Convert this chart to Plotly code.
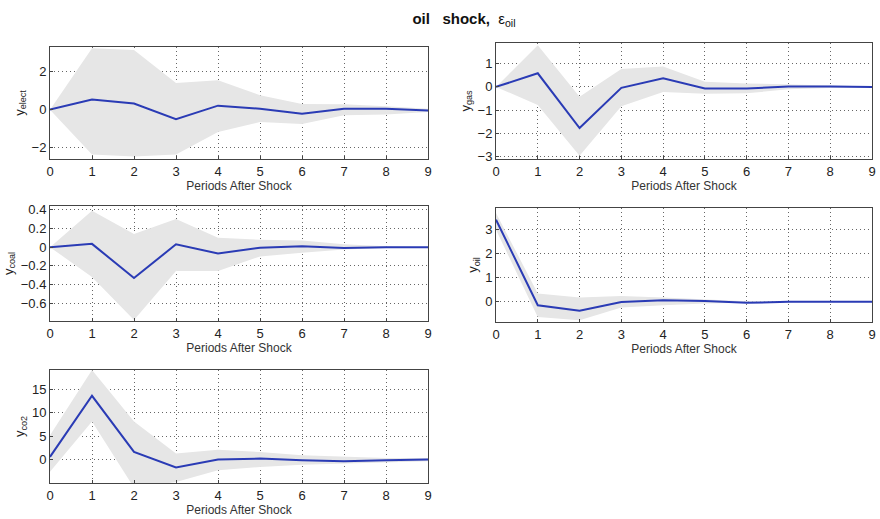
import plotly.graph_objects as go

periods = [0, 1, 2, 3, 4, 5, 6, 7, 8, 9]

elect_mid = [0, 0.53, 0.32, -0.50, 0.21, 0.05, -0.22, 0.05, 0.05, -0.04]
elect_up = [0, 3.23, 3.14, 1.41, 1.55, 0.76, 0.30, 0.28, 0.18, 0.05]
elect_lo = [0, -2.36, -2.47, -2.36, -1.18, -0.65, -0.75, -0.30, -0.25, -0.12]

gas_mid = [0, 0.59, -1.78, -0.04, 0.37, -0.07, -0.07, 0.02, 0.02, 0.0]
gas_up = [0, 1.80, -0.43, 0.78, 0.88, 0.22, 0.15, 0.10, 0.05, 0.02]
gas_lo = [0, -0.78, -2.98, -0.84, -0.22, -0.30, -0.28, -0.10, -0.05, -0.02]

coal_mid = [0, 0.035, -0.33, 0.03, -0.067, -0.007, 0.01, -0.01, 0.0, 0.0]
coal_up = [0, 0.39, 0.14, 0.30, 0.10, 0.08, 0.07, 0.03, 0.01, 0.0]
coal_lo = [0, -0.32, -0.78, -0.255, -0.255, -0.10, -0.06, -0.025, -0.01, 0.0]

oil_mid = [3.39, -0.14, -0.37, -0.01, 0.07, 0.04, -0.04, 0.0, 0.0, 0.0]
oil_up = [3.66, 0.35, 0.18, 0.24, 0.18, 0.10, 0.03, 0.01, 0.0, 0.0]
oil_lo = [2.97, -0.62, -0.76, -0.23, -0.14, -0.07, -0.04, -0.01, 0.0, 0.0]

co2_mid = [0.57, 13.6, 1.64, -1.7, 0.0, 0.2, -0.15, -0.35, -0.15, 0.0]
co2_up = [5.2, 19.1, 8.1, 1.3, 2.1, 1.6, 0.9, 0.6, 0.35, 0.35]
co2_lo = [-2.6, 8.1, -6.0, -4.8, -2.3, -1.6, -1.1, -0.85, -0.5, -0.35]

x_ticks = [0, 1, 2, 3, 4, 5, 6, 7, 8, 9]
x_label = "Periods After Shock"
title_text = "<b>oil   shock,</b>  ε<sub>oil</sub>"

panels = [
    dict(name="elect", mid=elect_mid, up=elect_up, lo=elect_lo,
         yr=[-2.6, 3.3], yt=[-2, 0, 2], box=(50, 428, 47, 159)),
    dict(name="gas", mid=gas_mid, up=gas_up, lo=gas_lo,
         yr=[-3.12, 1.9], yt=[-3, -2, -1, 0, 1], box=(496, 872, 43, 159)),
    dict(name="coal", mid=coal_mid, up=coal_up, lo=coal_lo,
         yr=[-0.79, 0.44], yt=[-0.6, -0.4, -0.2, 0, 0.2, 0.4], box=(50, 428, 206, 321)),
    dict(name="oil", mid=oil_mid, up=oil_up, lo=oil_lo,
         yr=[-0.83, 3.87], yt=[0, 1, 2, 3], box=(496, 872, 208, 322)),
    dict(name="co2", mid=co2_mid, up=co2_up, lo=co2_lo,
         yr=[-5, 19.1], yt=[0, 5, 10, 15], box=(50, 428, 370, 483)),
]

W, H = 880, 519
fig = go.Figure()
layout = {}
font_family = "Liberation Sans, Arial, sans-serif"

for i, p in enumerate(panels, start=1):
    xa = "x" if i == 1 else f"x{i}"
    ya = "y" if i == 1 else f"y{i}"
    fig.add_trace(go.Scatter(x=periods, y=p["lo"], mode="lines", line=dict(width=0),
                             xaxis=xa, yaxis=ya, showlegend=False, hoverinfo="skip"))
    fig.add_trace(go.Scatter(x=periods, y=p["up"], mode="lines", line=dict(width=0),
                             fill="tonexty", fillcolor="#e6e6e6",
                             xaxis=xa, yaxis=ya, showlegend=False, hoverinfo="skip"))
    fig.add_trace(go.Scatter(x=periods, y=p["mid"], mode="lines",
                             line=dict(color="#2a3bb5", width=2),
                             xaxis=xa, yaxis=ya, showlegend=False))
    x0, x1, y0, y1 = p["box"]
    common = dict(showline=True, linecolor="#444", linewidth=1, mirror=True,
                  showgrid=True, gridcolor="#666", griddash="1px,3px", gridwidth=1,
                  zeroline=False, ticks="inside", ticklen=3, tickcolor="#444",
                  automargin=False,
                  tickfont=dict(family=font_family, size=13, color="#222"))
    layout["xaxis" if i == 1 else f"xaxis{i}"] = dict(
        domain=[x0 / W, x1 / W], anchor=ya, range=[0, 9], tickvals=x_ticks,
        title=dict(text=x_label, standoff=2,
                   font=dict(family=font_family, size=12, color="#333")),
        **common)
    layout["yaxis" if i == 1 else f"yaxis{i}"] = dict(
        domain=[1 - y1 / H, 1 - y0 / H], anchor=xa, range=p["yr"], tickvals=p["yt"],
        title=dict(text=f"y<sub>{p['name']}</sub>", standoff=4,
                   font=dict(family=font_family, size=13, color="#222")),
        **common)

fig.update_layout(
    width=W, height=H,
    margin=dict(l=0, r=0, t=0, b=0),
    paper_bgcolor="white", plot_bgcolor="white",
    title=dict(text=title_text, x=464 / W, xanchor="center",
               y=1 - 19 / H, yanchor="middle", automargin=False,
               font=dict(family=font_family, size=15, color="#111")),
    **layout,
)

fig.write_html(
    "out.html",
    config={"displayModeBar": False},
    post_script="document.body.style.margin='0';"
                "document.documentElement.style.overflow='hidden';"
                "document.body.style.overflow='hidden';",
)
